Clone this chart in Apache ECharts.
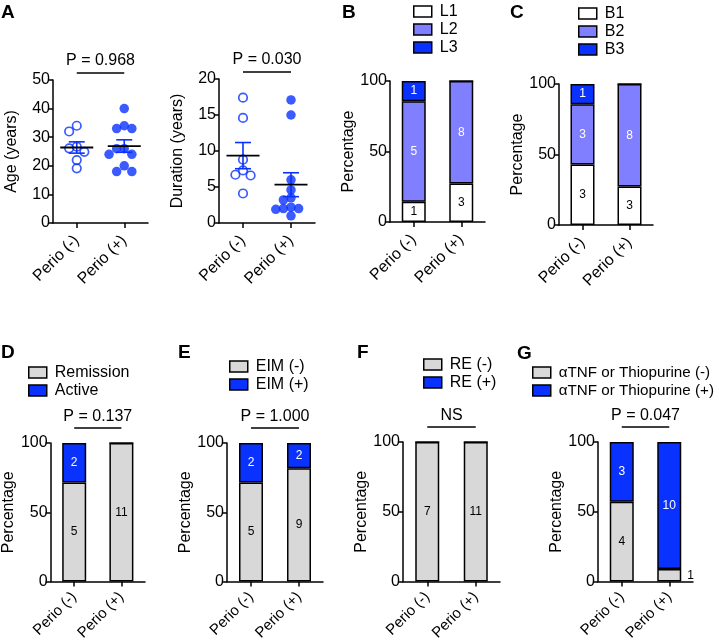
<!DOCTYPE html>
<html><head><meta charset="utf-8">
<script src="https://cdn.jsdelivr.net/npm/echarts@6/dist/echarts.min.js"></script>
<style>html,body{margin:0;padding:0;background:#fff}#c{width:719px;height:643px}</style>
</head><body><div id="c"></div>
<script>
// ---------- data ----------
const categories = ['Perio (-)', 'Perio (+)'];
const ageNeg = [34, 32, 26.7, 26.1, 24.9, 22, 19.1];
const agePos = [40, 34, 33, 33, 26, 26, 24, 24, 20, 18, 18];
const durNeg = [17.4, 14.6, 8.8, 7.3, 6.7, 6.6, 4.1];
const durPos = [17.1, 15, 6, 4.6, 3.5, 3.2, 2.2, 2, 2, 1.9, 1];
const locationNames = ['L1', 'L2', 'L3'];
const locationCounts = [[1, 3], [5, 8], [1, 0]];
const behaviorNames = ['B1', 'B2', 'B3'];
const behaviorCounts = [[3, 3], [3, 8], [1, 0]];
const activityNames = ['Remission', 'Active'];
const activityCounts = [[5, 11], [2, 0]];
const eimNames = ['EIM (-)', 'EIM (+)'];
const eimCounts = [[5, 9], [2, 2]];
const reNames = ['RE (-)', 'RE (+)'];
const reCounts = [[7, 11], [0, 0]];
const drugNames = ['αTNF or Thiopurine (-)', 'αTNF or Thiopurine (+)'];
const drugCounts = [[4, 1], [3, 10]];
const pLabels = ['P = 0.968', 'P = 0.030', 'P = 0.137', 'P = 1.000', 'NS', 'P = 0.047'];
const panelLetters = ['A', 'B', 'C', 'D', 'E', 'F', 'G'];

// ---------- style ----------
const FONT = 'Liberation Sans, Arial, Helvetica, sans-serif';
const BLUE = '#0a32ff';
const LIGHT = '#7f7fff';
const GRAY = '#d8d8d8';
const WHITE = '#ffffff';

const grids = [
  {left: 53, top: 80, width: 95, height: 143},   // A age
  {left: 219, top: 79, width: 96, height: 144},  // A duration
  {left: 390, top: 81, width: 95, height: 141},  // B
  {left: 559, top: 84, width: 94, height: 141},  // C
  {left: 48, top: 443, width: 97, height: 142},  // D
  {left: 227, top: 443, width: 96, height: 142}, // E
  {left: 403, top: 442, width: 97, height: 142}, // F
  {left: 598, top: 442, width: 95, height: 142}  // G
];
const yConf = [
  {max: 50, interval: 10, name: 'Age (years)'},
  {max: 20, interval: 5, name: 'Duration (years)'},
  {max: 100, interval: 50, name: 'Percentage'},
  {max: 100, interval: 50, name: 'Percentage'},
  {max: 100, interval: 50, name: 'Percentage'},
  {max: 100, interval: 50, name: 'Percentage'},
  {max: 100, interval: 50, name: 'Percentage'},
  {max: 100, interval: 50, name: 'Percentage'}
];

const axisLine = {show: true, lineStyle: {color: '#000', width: 1.5}};
const xAxes = grids.map((g, i) => ({
  type: 'category', gridIndex: i, data: categories,
  axisLine, axisTick: {show: true, alignWithLabel: true, length: 5, lineStyle: {color: '#000', width: 1.5}},
  axisLabel: {rotate: 45, interval: 0, fontSize: i < 4 ? 16 : 15, color: '#000', fontFamily: FONT, margin: i < 4 ? 15 : 13},
  splitLine: {show: false}
}));
const yAxes = grids.map((g, i) => ({
  type: 'value', gridIndex: i, min: 0, max: yConf[i].max, interval: yConf[i].interval,
  name: yConf[i].name, nameLocation: 'middle', nameRotate: 90, nameGap: 33,
  nameTextStyle: {fontSize: 16, color: '#000', fontFamily: FONT},
  axisLine, axisTick: {show: true, length: 5, lineStyle: {color: '#000', width: 1.5}},
  axisLabel: {fontSize: 16, color: '#000', fontFamily: FONT, margin: 3},
  splitLine: {show: false}
}));

// beeswarm offsets (pixels) derived from values and axis scale
function swarm(values, pxPerUnit, d) {
  const placed = [];
  const cands = [0];
  for (let k = 1; k < 8; k++) cands.push(-k * d, k * d);
  return values.map(v => {
    const y = v * pxPerUnit;
    for (const c of cands) {
      if (placed.every(p => Math.hypot(p.x - c, p.y - y) >= d * 0.92)) {
        placed.push({x: c, y});
        return c;
      }
    }
    return 0;
  });
}
function mean(a) { return a.reduce((s, v) => s + v, 0) / a.length; }
function sem(a) {
  const m = mean(a);
  const sd = Math.sqrt(a.reduce((s, v) => s + (v - m) * (v - m), 0) / (a.length - 1));
  return sd / Math.sqrt(a.length);
}

const series = [];
function dotSeries(idx, groups) {
  const ppu = grids[idx].height / yConf[idx].max;
  groups.forEach((vals, ci) => {
    const offs = swarm(vals, ppu, 7.6);
    series.push({
      type: 'scatter', xAxisIndex: idx, yAxisIndex: idx, symbol: 'circle', symbolSize: ci === 0 ? 8.5 : 9.5,
      itemStyle: ci === 0 ? {color: 'rgba(0,0,0,0)', borderColor: BLUE, borderWidth: 1.7}
                          : {color: BLUE, borderColor: BLUE, borderWidth: 0},
      data: vals.map((v, k) => ({value: [ci, v], symbolOffset: [offs[k], 0]})),
      z: 3
    });
  });
  series.push({
    type: 'custom', xAxisIndex: idx, yAxisIndex: idx, z: 5,
    data: groups.map((vals, ci) => [ci, mean(vals), sem(vals)]),
    renderItem: function (params, api) {
      const ci = api.value(0), m = api.value(1), s = api.value(2);
      const pm = api.coord([ci, m]);
      const pt = api.coord([ci, m + s]);
      const pb = api.coord([ci, m - s]);
      const blue = {stroke: BLUE, lineWidth: 1.6};
      return {type: 'group', children: [
        {type: 'line', shape: {x1: pm[0], y1: pt[1], x2: pm[0], y2: pb[1]}, style: blue},
        {type: 'line', shape: {x1: pm[0] - 8, y1: pt[1], x2: pm[0] + 8, y2: pt[1]}, style: blue},
        {type: 'line', shape: {x1: pm[0] - 8, y1: pb[1], x2: pm[0] + 8, y2: pb[1]}, style: blue},
        {type: 'line', shape: {x1: pm[0] - 16.5, y1: pm[1], x2: pm[0] + 16.5, y2: pm[1]}, style: {stroke: '#000', lineWidth: 1.8}}
      ]};
    }
  });
}
dotSeries(0, [ageNeg, agePos]);
dotSeries(1, [durNeg, durPos]);

function stackSeries(idx, names, counts, colors, labelColors) {
  const totals = categories.map((c, ci) => counts.reduce((s, row) => s + row[ci], 0));
  names.forEach((nm, si) => {
    series.push({
      type: 'bar', name: nm, xAxisIndex: idx, yAxisIndex: idx, stack: 'p' + idx, barWidth: 24,
      itemStyle: {color: colors[si], borderColor: '#000', borderWidth: 1.5},
      data: counts[si].map((cnt, ci) => {
        const pct = cnt / totals[ci] * 100;
        const small = cnt > 0 && pct < 12;
        return {
          value: pct, count: cnt,
          label: {
            show: cnt > 0,
            position: small ? 'right' : 'inside',
            distance: 6,
            color: small ? '#000' : labelColors[si],
            formatter: String(cnt)
          }
        };
      }),
      label: {fontSize: 12, fontFamily: FONT},
      emphasis: {disabled: true}
    });
  });
}
stackSeries(2, locationNames, locationCounts, [WHITE, LIGHT, BLUE], ['#000', '#fff', '#fff']);
stackSeries(3, behaviorNames, behaviorCounts, [WHITE, LIGHT, BLUE], ['#000', '#fff', '#fff']);
stackSeries(4, activityNames, activityCounts, [GRAY, BLUE], ['#000', '#fff']);
stackSeries(5, eimNames, eimCounts, [GRAY, BLUE], ['#000', '#fff']);
stackSeries(6, reNames, reCounts, [GRAY, BLUE], ['#000', '#fff']);
stackSeries(7, drugNames, drugCounts, [GRAY, BLUE], ['#000', '#fff']);

function legend(names, left, top, fs) {
  return {
    data: names, left, top, orient: 'vertical', itemWidth: 18, itemHeight: 11, itemGap: 1,
    icon: 'rect', selectedMode: false, padding: 0,
    itemStyle: {borderColor: '#000', borderWidth: 1.5},
    textStyle: {fontSize: fs || 16, color: '#000', fontFamily: FONT, lineHeight: 17, padding: [0, 0, 0, 3]}
  };
}

const chart = echarts.init(document.getElementById('c'), null, {renderer: 'canvas'});
chart.setOption({
  backgroundColor: '#fff',
  animation: false,
  grid: grids.map(g => Object.assign({containLabel: false}, g)),
  xAxis: xAxes,
  yAxis: yAxes,
  legend: [
    legend(locationNames, 413, 3),
    legend(behaviorNames, 578, 5),
    legend(activityNames, 28, 364),
    legend(eimNames, 229, 358),
    legend(reNames, 423, 356),
    legend(drugNames, 532, 364, 15.2)
  ],
  series
});

// annotations: p-value brackets and panel letters
const pPanels = [0, 1, 4, 5, 6, 7];
const graphics = [];
pPanels.forEach((idx, k) => {
  const a = chart.convertToPixel({xAxisIndex: idx, yAxisIndex: idx}, [0, yConf[idx].max]);
  const b = chart.convertToPixel({xAxisIndex: idx, yAxisIndex: idx}, [1, yConf[idx].max]);
  const lineOff = idx < 2 ? 7 : 15;
  const textOff = idx < 2 ? 19 : 26;
  graphics.push({type: 'line', shape: {x1: a[0], y1: a[1] - lineOff, x2: b[0], y2: a[1] - lineOff},
    style: {stroke: '#000', lineWidth: 1.5}});
  graphics.push({type: 'text', x: (a[0] + b[0]) / 2, y: a[1] - textOff,
    style: {text: pLabels[k], fill: '#000', font: '16px ' + FONT, textAlign: 'center', textVerticalAlign: 'middle'}});
});
const letterPos = [[1, 3], [342, 3], [510, 3], [1, 343], [178, 343], [357, 343], [517, 344]];
panelLetters.forEach((L, i) => {
  graphics.push({type: 'text', x: letterPos[i][0], y: letterPos[i][1],
    style: {text: L, fill: '#000', font: 'bold 19px ' + FONT, textAlign: 'left', textVerticalAlign: 'top'}});
});
chart.setOption({graphic: graphics});
</script>
</body></html>
